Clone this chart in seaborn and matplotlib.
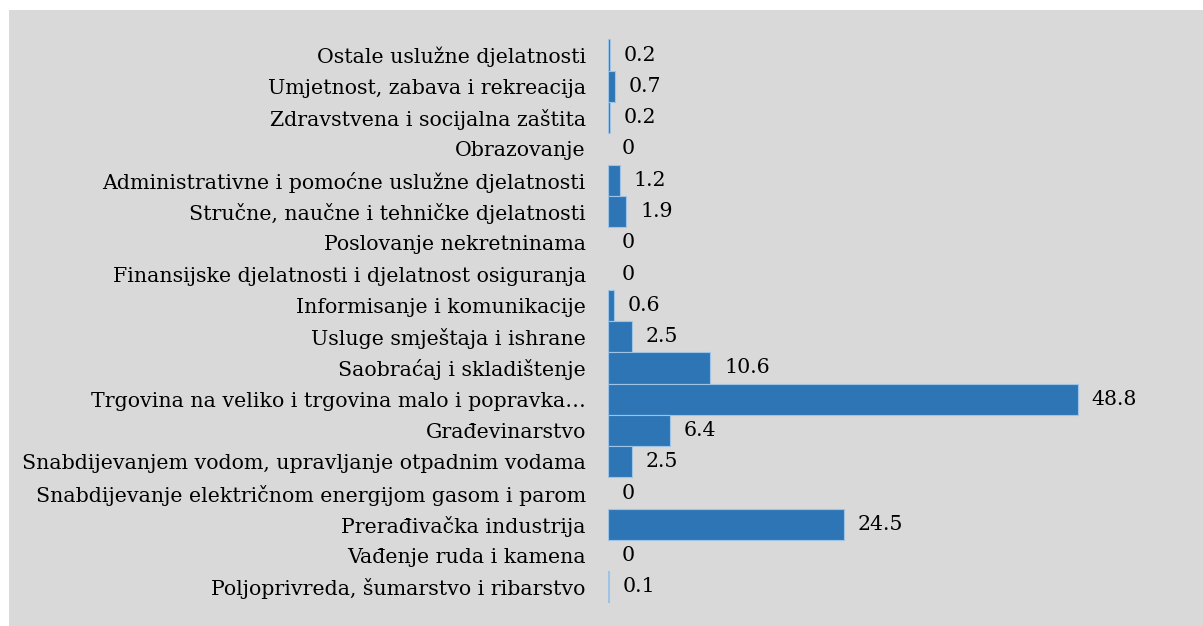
import matplotlib
matplotlib.use("Agg")
import matplotlib.pyplot as plt
import seaborn as sns
import pandas as pd

categories = [
    "Ostale uslužne djelatnosti",
    "Umjetnost, zabava i rekreacija",
    "Zdravstvena i socijalna zaštita",
    "Obrazovanje",
    "Administrativne i pomoćne uslužne djelatnosti",
    "Stručne, naučne i tehničke djelatnosti",
    "Poslovanje nekretninama",
    "Finansijske djelatnosti i djelatnost osiguranja",
    "Informisanje i komunikacije",
    "Usluge smještaja i ishrane",
    "Saobraćaj i skladištenje",
    "Trgovina na veliko i trgovina malo i popravka…",
    "Građevinarstvo",
    "Snabdijevanjem vodom, upravljanje otpadnim vodama",
    "Snabdijevanje električnom energijom gasom i parom",
    "Prerađivačka industrija",
    "Vađenje ruda i kamena",
    "Poljoprivreda, šumarstvo i ribarstvo",
]
values = [0.2, 0.7, 0.2, 0, 1.2, 1.9, 0, 0, 0.6, 2.5, 10.6, 48.8, 6.4, 2.5, 0, 24.5, 0, 0.1]

df = pd.DataFrame({"sektor": categories, "udio": values})

sns.set_style("white")
plt.rcParams["font.family"] = ["DejaVu Serif"]
fs = 14.8

fig = plt.figure(figsize=(12.03, 6.26), dpi=100, facecolor="white")
# gray chart area
fig.patches.append(plt.Rectangle((9 / 1203, 0), 1, 1 - 10 / 626, transform=fig.transFigure,
                                 facecolor="#d9d9d9", edgecolor="none", zorder=-10))
ax = fig.add_axes([608 / 1203, 0.0374, (1160 - 608) / 1203, 0.937 - 0.0374])
ax.set_facecolor("none")

sns.barplot(data=df, x="udio", y="sektor", ax=ax, color="#2e75b6", saturation=1,
            width=1.0, edgecolor="#9dc3e6", linewidth=0.8)
# no outline on empty bars
for bar, v in zip(ax.patches, values):
    if v == 0:
        bar.set_linewidth(0)

ax.set_xlim(0, (1160 - 608) / 9.63)
ax.set_ylim(17.5, -0.5)
ax.bar_label(ax.containers[0], labels=[f"{v:g}" for v in values], padding=10,
             fontsize=fs, color="black")

ax.set_xlabel("")
ax.set_ylabel("")
ax.set_xticks([])
ax.tick_params(axis="y", length=0, pad=16, labelsize=fs, labelcolor="black")
for s in ax.spines.values():
    s.set_visible(False)

fig.savefig("out.png", dpi=100, facecolor="white")
